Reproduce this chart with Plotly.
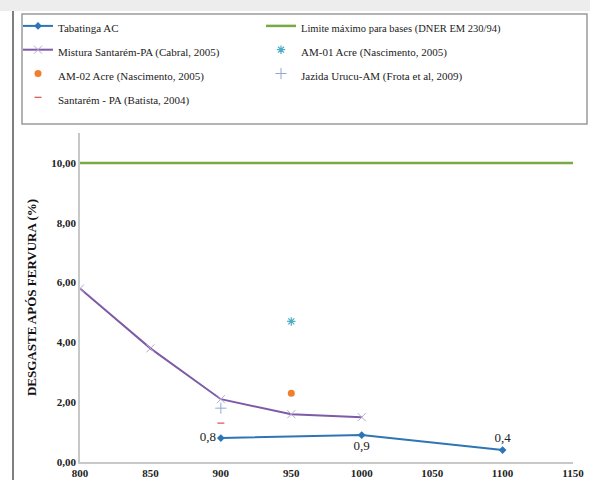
import plotly.graph_objects as go

# ---- data ----
tab_x = [900, 1000, 1100]
tab_y = [0.8, 0.9, 0.4]
tab_labels = ["0,8", "0,9", "0,4"]
lim_x = [800, 1150]
lim_y = [10, 10]
mis_x = [800, 850, 900, 950, 1000]
mis_y = [5.8, 3.8, 2.1, 1.6, 1.5]
am01_x = [950]
am01_y = [4.7]
am02_x = [950]
am02_y = [2.3]
uru_x = [900]
uru_y = [1.8]
stm_x = [900]
stm_y = [1.3]
x_ticks = [800, 850, 900, 950, 1000, 1050, 1100, 1150]
y_ticks = [0, 2, 4, 6, 8, 10]

W, H = 590, 480
L, R, T, B = 80, 17, 133, 18
PW, PH = W - L - R, H - T - B

def px(x):
    return (x - L) / PW

def py(y):
    return (H - B - y) / PH

SERIF = "Liberation Serif, Times New Roman, serif"

def nm(s, fs=11):
    return "<span style='font-size:%spx'>" % fs + s + "</span>"

fig = go.Figure()
fig.add_trace(go.Scatter(x=tab_x, y=tab_y, name=nm("Tabatinga AC"), mode="lines+markers+text",
                         line=dict(color="#2E75B6", width=2),
                         marker=dict(symbol="diamond", size=6, color="#2E75B6"),
                         text=tab_labels, textposition=["middle left", "bottom center", "top center"],
                         textfont=dict(family=SERIF, size=13, color="#222")))
fig.add_trace(go.Scatter(x=lim_x, y=lim_y, name=nm("Limite máximo para bases (DNER EM 230/94)", 10.5),
                         mode="lines", line=dict(color="#79A943", width=2.5)))
fig.add_trace(go.Scatter(x=mis_x, y=mis_y, name=nm("Mistura Santarém-PA (Cabral, 2005)"),
                         mode="lines+markers", line=dict(color="#7D5BA6", width=2),
                         marker=dict(symbol="x-thin-open", size=8, color="#B7A6D3", line=dict(width=1, color="#B7A6D3"))))
fig.add_trace(go.Scatter(x=am01_x, y=am01_y, name=nm("AM-01 Acre (Nascimento, 2005)"), mode="markers",
                         marker=dict(symbol="asterisk-open", size=7, color="#4BACC6", line=dict(width=1.2, color="#4BACC6"))))
fig.add_trace(go.Scatter(x=am02_x, y=am02_y, name=nm("AM-02 Acre (Nascimento, 2005)"), mode="markers",
                         marker=dict(symbol="circle", size=7, color="#F07F2D")))
fig.add_trace(go.Scatter(x=uru_x, y=uru_y, name=nm("Jazida Urucu-AM (Frota et al, 2009)"), mode="markers",
                         marker=dict(symbol="cross-thin-open", size=8, color="#8EA9D8", line=dict(width=1, color="#8EA9D8"))))
fig.add_trace(go.Scatter(x=stm_x, y=stm_y, name=nm("Santarém - PA (Batista, 2004)"), mode="markers",
                         marker=dict(symbol="line-ew-open", size=5, color="#D9534F", line=dict(width=1.2, color="#D9534F"))))

shapes = [
    dict(type="rect", xref="paper", yref="paper", x0=px(0), x1=px(W), y0=py(0), y1=py(11),
         fillcolor="#EDEDED", line=dict(width=0), layer="below"),
    dict(type="line", xref="paper", yref="paper", x0=px(13), x1=px(13), y0=py(11), y1=py(H),
         line=dict(color="#7F7F7F", width=2)),
    dict(type="rect", xref="paper", yref="paper", x0=px(22), x1=px(587), y0=py(14), y1=py(124),
         line=dict(color="#9A9A9A", width=1.5)),
]

fig.update_layout(
    width=W, height=H,
    margin=dict(l=L, r=R, t=T, b=B, autoexpand=False),
    paper_bgcolor="white", plot_bgcolor="white",
    separators=",.",
    showlegend=True,
    shapes=shapes,
    legend=dict(orientation="h", x=px(18), y=py(9), xanchor="left", yanchor="top",
                entrywidth=198, entrywidthmode="pixels",
                font=dict(family=SERIF, size=16, color="#222"),
                bgcolor="rgba(0,0,0,0)", itemwidth=30, tracegroupgap=0),
    xaxis=dict(range=[800, 1150], tickvals=x_ticks, showgrid=False, zeroline=False,
               showline=True, linecolor="#C8C8C8", linewidth=1.5, ticks="",
               tickfont=dict(family=SERIF, size=11, color="#222", weight="bold")),
    yaxis=dict(range=[0, 11], tickvals=y_ticks, tickformat=".2f", showgrid=False, zeroline=False,
               showline=True, linecolor="#C8C8C8", linewidth=1.5, ticks="",
               tickfont=dict(family=SERIF, size=11, color="#222", weight="bold"),
               title=dict(text="DESGASTE APÓS FERVURA (%)", standoff=12,
                          font=dict(family=SERIF, size=13, color="#111", weight="bold"))),
)

fig.write_html("out.html", config={"displayModeBar": False},
               post_script="document.body.style.margin='0';")
